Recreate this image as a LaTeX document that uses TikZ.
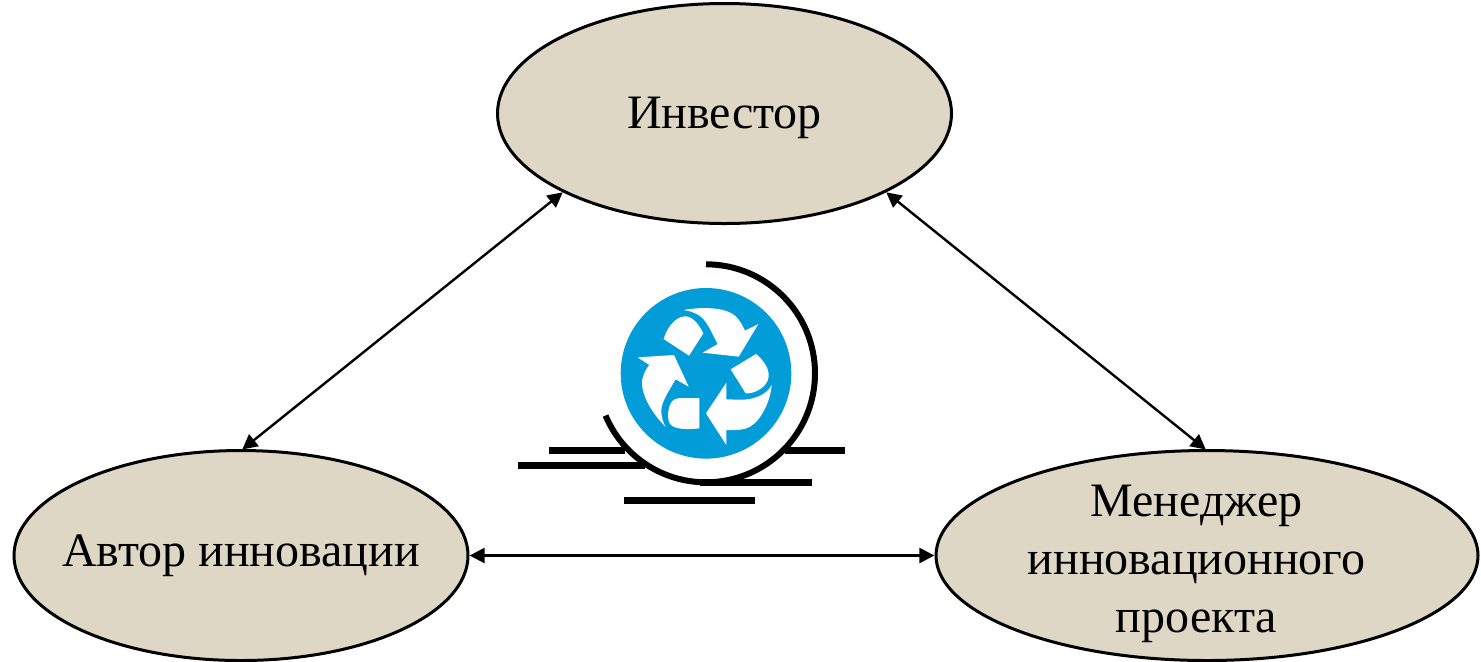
\documentclass[tikz,border=0pt]{standalone}
\usepackage{fontspec}
\setmainfont{Liberation Serif}
\definecolor{beige}{HTML}{DFD7C5}
\definecolor{recyc}{HTML}{029CD9}
\usetikzlibrary{shapes.geometric,arrows.meta}
\tikzset{
  actor/.style={ellipse,draw=black,fill=beige,line width=1.5pt,inner sep=0pt,outer sep=0pt},
  caption/.style={align=center,inner sep=0pt,font=\fontsize{24}{29}\selectfont},
  link/.style={line width=1.2pt,{Triangle[length=7.5pt,width=7.5pt]}-{Triangle[length=7.5pt,width=7.5pt]},shorten <=0.8pt,shorten >=0.8pt},
  bar/.style={line width=3.5pt},
  ring/.style={line width=3pt},
  glyph/.style={fill=white,draw=none}
}
\begin{document}
\begin{tikzpicture}[x=0.5pt,y=-0.5pt]
\useasboundingbox (0,0) rectangle (1481,661);
\node[actor,minimum width=227pt,minimum height=110pt] (inv) at (724.5,113.5) {};
\node[actor,minimum width=227pt,minimum height=105pt] (avt) at (241,555.5) {};
\node[actor,minimum width=271pt,minimum height=105pt] (men) at (1207,555.5) {};
\node[caption] (invt) at (724.5,118) {Инвестор};
\node[caption] (avtt) at (241,555.5) {Автор инновации};
\node[caption] (ment) at (1196.5,563.5) {Менеджер\\инновационного\\проекта};
\draw[link] (inv.south west) -- (avt.north);
\draw[link] (inv.south east) -- (men.north);
\draw[link] (avt.east) -- (men.west);
% icon
\coordinate (hub) at (706,373.3);
\draw[bar] (549,450) -- (625,450);
\draw[bar] (785,450) -- (845,450);
\draw[bar] (518,465) -- (645,465);
\draw[bar] (700,482) -- (812,482);
\draw[bar] (624,500) -- (755,500);
\fill[recyc] (hub) circle[radius=85.3];
\draw[ring] (hub) ++(-90:109) arc[start angle=-90,end angle=157.2,radius=109];
\begin{scope}[shift={(500,250)},x=0.16667pt,y=-0.16667pt]
\fill[glyph] (550,180) .. controls (620,168) and (680,175) .. (705,197) .. controls (720,210) and (728,228) .. (735,242) -- (775,222) -- (716,320) -- (608,308) -- (653,282) .. controls (635,250) and (620,205) .. (590,192) .. controls (578,186) and (565,182) .. (550,180) -- cycle;
\fill[glyph] (413,322) -- (522,315) -- (566,410) -- (527,388) .. controls (505,425) and (485,455) .. (484,480) .. controls (483,500) and (490,520) .. (497,530) .. controls (460,495) and (430,445) .. (426,405) .. controls (424,385) and (435,360) .. (448,345) -- cycle;
\fill[glyph] (618,490) -- (679,398) -- (679,448) -- (720,449) .. controls (760,450) and (800,435) .. (815,405) .. controls (812,450) and (785,510) .. (750,530) .. controls (730,542) and (700,540) .. (679,540) -- (679,585) -- cycle;
\fill[glyph] (491,267) .. controls (500,235) and (525,200) .. (555,199) .. controls (580,198) and (600,230) .. (610,250) -- (567,317) -- cycle;
\fill[glyph] (692,358) -- (768,312) .. controls (790,330) and (808,355) .. (806,380) .. controls (803,410) and (765,432) .. (737,430) -- cycle;
\fill[glyph] (598,444) -- (598,535) .. controls (570,538) and (530,540) .. (513,525) .. controls (500,512) and (503,480) .. (511,462) .. controls (517,448) and (530,444) .. (545,444) -- cycle;
\end{scope}
\end{tikzpicture}
\end{document}
